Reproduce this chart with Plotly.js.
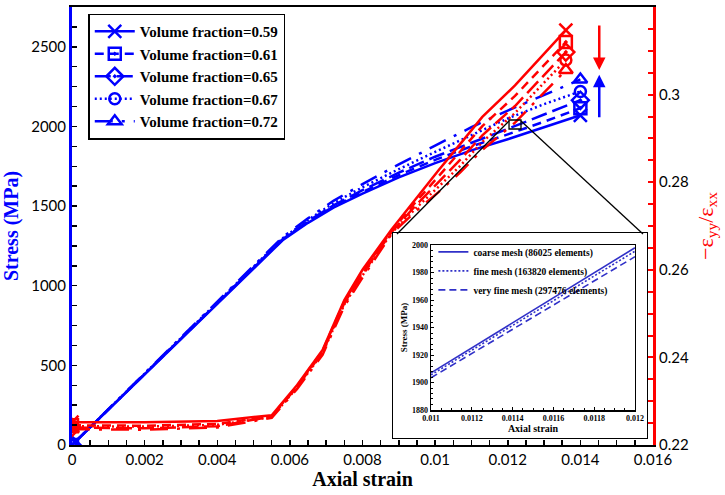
<!DOCTYPE html>
<html>
<head>
<meta charset="utf-8">
<script src="https://cdn.plot.ly/plotly-3.0.1.min.js"></script>
<style>html,body{margin:0;padding:0;background:#fff;}#chart{width:725px;height:495px;}</style>
</head>
<body>
<div id="chart"></div>
<script>
// ---------- data ----------
const seriesNames = ["Volume fraction=0.59", "Volume fraction=0.61", "Volume fraction=0.65", "Volume fraction=0.67", "Volume fraction=0.72"];

// Stress (MPa) vs axial strain (left axis)
const strainStress = [0, 0.0058, 0.0065, 0.0072, 0.008, 0.009, 0.010, 0.011, 0.012, 0.013, 0.0140];
const stress059 = [0, 1285, 1395, 1490, 1578, 1680, 1770, 1850, 1920, 1995, 2070];
const stress061 = [0, 1290, 1400, 1497, 1588, 1695, 1790, 1875, 1950, 2030, 2115];
const stress065 = [0, 1292, 1405, 1505, 1600, 1710, 1810, 1900, 1985, 2075, 2165];
const stress067 = [0, 1298, 1413, 1518, 1618, 1732, 1840, 1945, 2050, 2140, 2220];
const stress072 = [0, 1305, 1423, 1533, 1638, 1762, 1880, 1995, 2100, 2200, 2295];

// -eps_yy/eps_xx vs axial strain (right axis)
const strainRatio = [0, 0.002, 0.004, 0.0055, 0.0062, 0.0069, 0.0075, 0.008, 0.0088, 0.0095, 0.0101, 0.0107, 0.0113, 0.0122, 0.0136];
const ratio059 = [0.2252, 0.2252, 0.2255, 0.2268, 0.2337, 0.2417, 0.2531, 0.2600, 0.2692, 0.2766, 0.2828, 0.2888, 0.2949, 0.3021, 0.3147];
const ratio061 = [0.2245, 0.2244, 0.2248, 0.2266, 0.2335, 0.2415, 0.2528, 0.2596, 0.2689, 0.2758, 0.2814, 0.2870, 0.2928, 0.2997, 0.3120];
const ratio065 = [0.2240, 0.2238, 0.2243, 0.2265, 0.2333, 0.2412, 0.2524, 0.2591, 0.2686, 0.2750, 0.2801, 0.2852, 0.2907, 0.2974, 0.3097];
const ratio067 = [0.2243, 0.2242, 0.2246, 0.2264, 0.2331, 0.2410, 0.2521, 0.2587, 0.2684, 0.2743, 0.2790, 0.2838, 0.2892, 0.2958, 0.3079];
const ratio072 = [0.2236, 0.2235, 0.2240, 0.2262, 0.2328, 0.2406, 0.2517, 0.2582, 0.2682, 0.2736, 0.2778, 0.2823, 0.2874, 0.2936, 0.3056];

// inset: mesh study
const meshNames = ["coarse mesh (86025 elements)", "fine mesh (163820 elements)", "very fine mesh (297476 elements)"];
const insetStrain = [0.011, 0.012];
const meshCoarse = [1907, 1998];
const meshFine = [1905.5, 1995.5];
const meshVeryFine = [1903.5, 1991.5];

// ticks
const xTickVals = [0, 0.002, 0.004, 0.006, 0.008, 0.01, 0.012, 0.014, 0.016];
const xTickText = ["0", "0.002", "0.004", "0.006", "0.008", "0.01", "0.012", "0.014", "0.016"];
const yTickVals = [0, 500, 1000, 1500, 2000, 2500];
const y2TickVals = [0.22, 0.24, 0.26, 0.28, 0.30, 0.32];
const y2TickText = ["0.22", "0.24", "0.26", "0.28", "0.3", "0.32"];
const insetXTickVals = [0.011, 0.0112, 0.0114, 0.0116, 0.0118, 0.012];
const insetXTickText = ["0.011", "0.0112", "0.0114", "0.0116", "0.0118", "0.012"];
const insetYTickVals = [1880, 1900, 1920, 1940, 1960, 1980, 2000];

// ---------- styles ----------
const BLUE = "#0000ff", RED = "#ff0000", INSET = "#3030c8";
const symbols = ["x-thin-open", "square-open-dot", "diamond-open-dot", "circle-open", "triangle-up-open"];
const sizes = [13, 12, 13, 11, 12];
const dashes = ["solid", "9px,6px", "16px,6px", "2px,3px", "18px,9px,3px,9px"];
const stressSets = [stress059, stress061, stress065, stress067, stress072];
const ratioSets = [ratio059, ratio061, ratio065, ratio067, ratio072];

function endColors(n, c) {
  const arr = [];
  for (let i = 0; i < n; i++) arr.push((i === 0 || i === n - 1) ? c : "rgba(0,0,0,0)");
  return arr;
}

const traces = [];
stressSets.forEach((ys, i) => {
  const cols = endColors(ys.length, BLUE);
  traces.push({
    type: "scatter", mode: "lines+markers", name: seriesNames[i],
    x: strainStress, y: ys, xaxis: "x", yaxis: "y",
    line: {color: BLUE, width: 2.5, dash: dashes[i]},
    marker: {symbol: symbols[i], size: sizes[i], color: cols, line: {color: cols, width: 2.5}},
    showlegend: true, legend: "legend"
  });
});
ratioSets.forEach((ys, i) => {
  const cols = endColors(ys.length, RED);
  traces.push({
    type: "scatter", mode: "lines+markers", name: seriesNames[i],
    x: strainRatio, y: ys, xaxis: "x", yaxis: "y2",
    line: {color: RED, width: 2.5, dash: dashes[i]},
    marker: {symbol: symbols[i], size: sizes[i], color: cols, line: {color: cols, width: 2.5}},
    showlegend: false
  });
});
// inset frame subplot (empty)
traces.push({type: "scatter", mode: "lines", x: [null], y: [null], xaxis: "x3", yaxis: "y3", showlegend: false, hoverinfo: "skip"});
// inset mesh traces
const meshSets = [meshCoarse, meshFine, meshVeryFine];
const meshDash = ["solid", "2px,2px", "7px,4px"];
meshSets.forEach((ys, i) => {
  traces.push({
    type: "scatter", mode: "lines", name: meshNames[i],
    x: insetStrain, y: ys, xaxis: "x4", yaxis: "y4",
    line: {color: INSET, width: 1.6, dash: meshDash[i]},
    legend: "legend2", showlegend: true
  });
});

const tickFont = {family: "Lato, 'Liberation Sans', sans-serif", size: 15, color: "#000"};
const serif = "'Liberation Serif', 'Times New Roman', serif";

const layout = {
  width: 725, height: 495,
  margin: {l: 72, r: 72, t: 7, b: 50, pad: 0},
  paper_bgcolor: "#fff", plot_bgcolor: "#fff",
  xaxis: {
    domain: [0, 1], range: [0, 0.016], tickmode: "array", tickvals: xTickVals, ticktext: xTickText,
    ticks: "inside", ticklen: 5, tickwidth: 1.5, tickcolor: "#000",
    minor: {tickmode: "linear", tick0: 0, dtick: 0.0005, ticks: "inside", ticklen: 5, tickwidth: 1.5, tickcolor: "#000"},
    showline: true, linecolor: "#000", linewidth: 2, mirror: true,
    showgrid: false, zeroline: false, tickfont: tickFont,
    title: {text: "Axial strain", font: {family: serif, size: 20, weight: "bold", color: "#000"}, standoff: 3}
  },
  yaxis: {
    domain: [0, 1], range: [0, 2750], tickmode: "array", tickvals: yTickVals,
    ticks: "inside", ticklen: 5, tickwidth: 1.5, tickcolor: "#000",
    minor: {tickmode: "linear", tick0: 0, dtick: 125, ticks: "inside", ticklen: 5, tickwidth: 1.5, tickcolor: "#000"},
    showline: true, linecolor: BLUE, linewidth: 3, mirror: false,
    showgrid: false, zeroline: false, tickfont: tickFont,
    title: {text: "Stress (MPa)", font: {family: serif, size: 20, weight: "bold", color: BLUE}, standoff: 12}
  },
  yaxis2: {
    overlaying: "y", side: "right", anchor: "x", range: [0.22, 0.32],
    tickmode: "array", tickvals: y2TickVals, ticktext: y2TickText,
    ticks: "inside", ticklen: 5, tickwidth: 2, tickcolor: RED,
    minor: {tickmode: "linear", tick0: 0.22, dtick: 0.005, ticks: "inside", ticklen: 5, tickwidth: 2, tickcolor: RED},
    showline: true, linecolor: RED, linewidth: 3,
    showgrid: false, zeroline: false, tickfont: tickFont,
    title: {text: "\u2212\u03b5<sub>yy</sub>/\u03b5<sub>xx</sub>", font: {family: serif, size: 22, color: RED}, standoff: 10}
  },
  xaxis3: {
    domain: [0.5525, 0.9897], anchor: "y3", range: [0, 1], showline: true, mirror: true,
    linecolor: "#000", linewidth: 1.2, ticks: "", showticklabels: false, showgrid: false, zeroline: false, fixedrange: true
  },
  yaxis3: {
    domain: [0.016, 0.484], anchor: "x3", range: [0, 1], showline: true, mirror: true,
    linecolor: "#000", linewidth: 1.2, ticks: "", showticklabels: false, showgrid: false, zeroline: false, fixedrange: true
  },
  xaxis4: {
    domain: [0.618, 0.969], anchor: "y4", range: [0.011, 0.012],
    tickmode: "array", tickvals: insetXTickVals, ticktext: insetXTickText,
    ticks: "inside", ticklen: 3, tickwidth: 1, tickcolor: "#000",
    minor: {tickmode: "linear", tick0: 0.011, dtick: 0.00005, ticks: "inside", ticklen: 2, tickwidth: 1, tickcolor: "#000"},
    showline: true, mirror: true, linecolor: "#000", linewidth: 1.5,
    showgrid: false, zeroline: false,
    tickfont: {family: serif, size: 8, weight: "bold", color: "#000"},
    title: {text: "Axial strain", font: {family: serif, size: 10, weight: "bold", color: "#000"}, standoff: 2}
  },
  yaxis4: {
    domain: [0.0799, 0.4566], anchor: "x4", range: [1880, 2000],
    tickmode: "array", tickvals: insetYTickVals,
    ticks: "inside", ticklen: 3, tickwidth: 1, tickcolor: "#000",
    minor: {tickmode: "linear", tick0: 1880, dtick: 4, ticks: "inside", ticklen: 2, tickwidth: 1, tickcolor: "#000"},
    showline: true, mirror: true, linecolor: "#000", linewidth: 1.5,
    showgrid: false, zeroline: false,
    tickfont: {family: serif, size: 8, weight: "bold", color: "#000"},
    title: {text: "Stress (MPa)", font: {family: serif, size: 9, weight: "bold", color: "#000"}, standoff: 3}
  },
  legend: {
    x: 0.028, y: 0.985, xanchor: "left", yanchor: "top",
    bgcolor: "#fff", bordercolor: "#000", borderwidth: 1.5,
    font: {family: serif, size: 15, weight: "bold", color: "#000"},
    tracegroupgap: 0, itemwidth: 40
  },
  legend2: {
    x: 0.622, y: 0.474, xanchor: "left", yanchor: "top",
    bgcolor: "rgba(0,0,0,0)", borderwidth: 0,
    font: {family: serif, size: 9.5, weight: "bold", color: "#000"},
    tracegroupgap: 0, itemwidth: 30
  },
  shapes: [
    {type: "rect", xref: "paper", yref: "paper", x0: 0.7522, x1: 0.7728, y0: 0.7215, y1: 0.7420, line: {color: "#000", width: 1.3}, layer: "above"},
    {type: "line", xref: "paper", yref: "paper", x0: 0.7522, y0: 0.7397, x1: 0.5594, y1: 0.4817, line: {color: "#000", width: 1.3}, layer: "above"},
    {type: "line", xref: "paper", yref: "paper", x0: 0.7728, y0: 0.7397, x1: 0.9828, y1: 0.4817, line: {color: "#000", width: 1.3}, layer: "above"}
  ],
  annotations: [
    {x: 0.01452, y: 2355, xref: "x", yref: "y", ax: 0, ay: -46, text: "", showarrow: true, arrowhead: 2, arrowsize: 1, arrowwidth: 2.5, arrowcolor: RED},
    {x: 0.01452, y: 2324, xref: "x", yref: "y", ax: 0, ay: 44, text: "", showarrow: true, arrowhead: 2, arrowsize: 1, arrowwidth: 2.5, arrowcolor: BLUE}
  ]
};

Plotly.newPlot("chart", traces, layout, {displayModeBar: false, staticPlot: true});
</script>
</body>
</html>
